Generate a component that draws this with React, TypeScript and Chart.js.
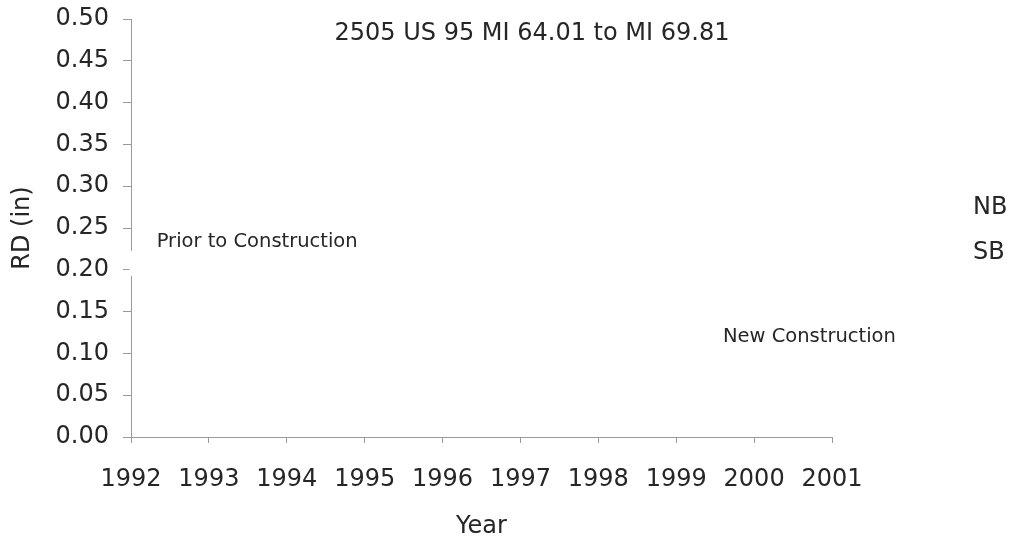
import { useEffect, useRef } from "react";
import { Chart, registerables } from "chart.js";

Chart.register(...registerables);

const years = [1992, 1993, 1994, 1995, 1996, 1997, 1998, 1999, 2000, 2001];
const nbValues: (number | null)[] = [];
const sbValues: (number | null)[] = [];
const seriesLabels = ["NB", "SB"];
const chartTitle = "2505 US 95 MI 64.01 to MI 69.81";
const xTitle = "Year";
const yTitle = "RD (in)";
const yMin = 0;
const yMax = 0.5;
const yStep = 0.05;
const notes = [
  { text: "Prior to Construction", year: 1992.33, value: 0.233 },
  { text: "New Construction", year: 1999.6, value: 0.12 },
];

const FONT = "'DejaVu Sans', sans-serif";
const TEXT = "#262626";
const AXIS = "#9a9a9a";

const overlay = {
  id: "overlay",
  afterDraw(chart: any) {
    const ctx = chart.ctx;
    const xs = chart.scales.x;
    const ys = chart.scales.y;
    ctx.save();
    // break in the vertical axis line (hidden behind the note's box)
    ctx.fillStyle = "#ffffff";
    ctx.fillRect(xs.left - 1.5, ys.getPixelForValue(0.225) + 2, 4, 25);
    ctx.fillStyle = TEXT;
    ctx.textBaseline = "middle";
    // title
    ctx.font = `24px ${FONT}`;
    ctx.textAlign = "center";
    ctx.fillText(chartTitle, 532, 34);
    // notes
    ctx.font = `19.5px ${FONT}`;
    ctx.textAlign = "left";
    notes.forEach((n) => {
      ctx.fillText(n.text, xs.getPixelForValue(n.year), ys.getPixelForValue(n.value));
    });
    // legend labels (series have no markers in the reference)
    ctx.font = `24px ${FONT}`;
    chart.data.datasets.forEach((d: any, i: number) => {
      ctx.fillText(d.label, 973, 208 + i * 45);
    });
    ctx.restore();
  },
};

export default function App() {
  const ref = useRef<HTMLCanvasElement | null>(null);
  useEffect(() => {
    if (!ref.current) return;
    const chart = new Chart(ref.current, {
      type: "line",
      data: {
        labels: years,
        datasets: [
          { label: seriesLabels[0], data: nbValues, borderColor: "#000", pointRadius: 0 },
          { label: seriesLabels[1], data: sbValues, borderColor: "#000", pointRadius: 0 },
        ],
      },
      options: {
        animation: false,
        responsive: false,
        layout: { padding: { left: 0, top: 19, right: 183, bottom: 0 } },
        plugins: { legend: { display: false }, tooltip: { enabled: false }, title: { display: false } },
        scales: {
          x: {
            type: "linear",
            min: years[0],
            max: years[years.length - 1],
            afterFit: (s: any) => {
              s.height = 104;
              s.paddingLeft = 0;
              s.paddingRight = 0;
            },
            afterBuildTicks: (s: any) => {
              s.ticks = years.map((v) => ({ value: v }));
            },
            ticks: {
              callback: (v: any) => String(v),
              font: { family: FONT, size: 24 },
              color: TEXT,
              padding: 22,
              maxRotation: 0,
              autoSkip: false,
            },
            grid: { drawOnChartArea: false, drawTicks: true, tickLength: 6, color: AXIS },
            border: { color: AXIS, width: 1 },
            title: {
              display: true,
              text: xTitle,
              font: { family: FONT, size: 24 },
              color: TEXT,
              padding: { top: 0, bottom: 0 },
            },
          },
          y: {
            min: yMin,
            max: yMax,
            afterFit: (s: any) => {
              s.width = 131;
              s.paddingTop = 0;
              s.paddingBottom = 0;
            },
            ticks: {
              stepSize: yStep,
              callback: (v: any) => Number(v).toFixed(2),
              font: { family: FONT, size: 24 },
              color: TEXT,
              padding: 14,
            },
            grid: { drawOnChartArea: false, drawTicks: true, tickLength: 8, color: AXIS },
            border: { color: AXIS, width: 1 },
            title: {
              display: true,
              text: yTitle,
              font: { family: FONT, size: 24 },
              color: TEXT,
              padding: { top: 8, bottom: 0 },
            },
          },
        },
      },
      plugins: [overlay],
    });
    return () => chart.destroy();
  }, []);
  return (
    <canvas
      ref={ref}
      width={1015}
      height={541}
      style={{ position: "fixed", left: 0, top: 0, width: 1015, height: 541, background: "#fff" }}
    />
  );
}
